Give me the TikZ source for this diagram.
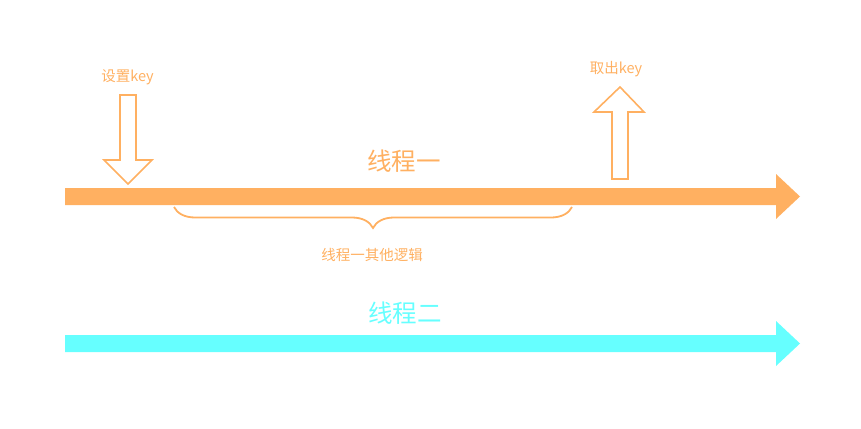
\documentclass[tikz,border=0pt]{standalone}
\usepackage{fontspec}
\setmainfont{Noto Sans CJK SC}
\usepackage{xcolor}
\usetikzlibrary{decorations.pathreplacing}
\definecolor{threadorange}{HTML}{FFB061}
\definecolor{threadcyan}{HTML}{66FFFF}

\begin{document}
\begin{tikzpicture}[
    x=1pt, y=-1pt,
    hollow/.style={draw=threadorange, line width=1.6pt, fill=white, line join=miter},
    keylabel/.style={text=threadorange, font=\fontsize{14.5}{17}\selectfont, inner sep=0pt},
    title/.style={font=\fontsize{24.5}{28}\selectfont, inner sep=0pt},
]
\useasboundingbox (0,0) rectangle (861,428);
%% thread one: timeline bar
\fill[threadorange] (65,188) -- (776,188) -- (776,174) -- (800,196.5)
    -- (776,219) -- (776,205) -- (65,205) -- cycle;
\node[title, text=threadorange] (t1) at (404,161) {线程一};
%% set key: hollow down arrow
\node[keylabel] (setkey) at (127.5,77) {设置key};
\draw[hollow] (120,95) -- (136,95) -- (136,160) -- (152,160) -- (128,184)
    -- (104,160) -- (120,160) -- cycle;
%% get key: hollow up arrow
\node[keylabel] (getkey) at (616,69) {取出key};
\draw[hollow] (620,87) -- (644,112) -- (628,112) -- (628,179) -- (612,179)
    -- (612,112) -- (594,112) -- cycle;
%% brace over the other logic
\coordinate (bl) at (174,207);
\coordinate (br) at (572,207);
\draw[threadorange, line width=1.8pt, decorate,
      decoration={brace, mirror, amplitude=21pt}] (bl) -- (br);
\node[keylabel] (other) at (372,255) {线程一其他逻辑};
%% thread two: timeline bar
\fill[threadcyan] (65,335) -- (776,335) -- (776,321) -- (800,343.5)
    -- (776,366) -- (776,352) -- (65,352) -- cycle;
\node[title, text=threadcyan] (t2) at (405,313) {线程二};
\end{tikzpicture}
\end{document}
